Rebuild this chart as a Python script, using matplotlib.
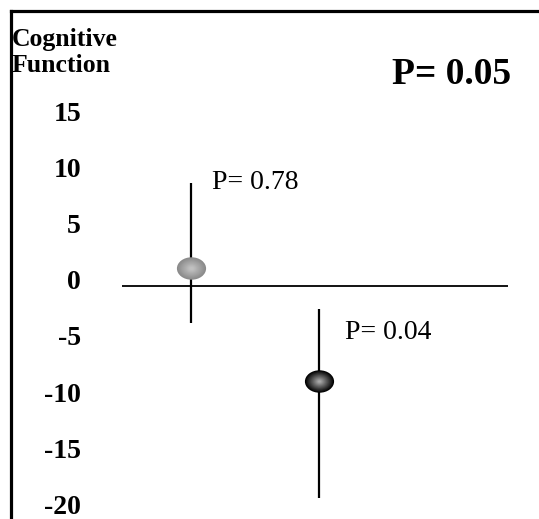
import numpy as np
import matplotlib
matplotlib.use("Agg")
import matplotlib.pyplot as plt
from matplotlib.path import Path
from matplotlib.transforms import Affine2D, ScaledTranslation
from matplotlib.lines import Line2D
import matplotlib.colors as mcolors

# ---- data ----
groups = ["Group 1", "Group 2"]
x_pos = [1, 2]
means = [1.6, -8.5]
upper = [9.2, -2.05]
lower = [-3.3, -18.9]
group_p = ["P= 0.78", "P= 0.04"]
overall_p = "P= 0.05"
y_ticks = [15, 10, 5, 0, -5, -10, -15, -20]
y_label = "Cognitive\nFunction"

serif = ["Liberation Serif", "DejaVu Serif"]

W, H = 539, 519
fig = plt.figure(figsize=(W / 100, H / 100), dpi=100)
ax = fig.add_axes([122 / W, 0, 386 / W, (H - 100) / H])
ax.set_xlim(0.46, 3.48)
ax.set_ylim(-20.8, 16.6)
for s in ax.spines.values():
    s.set_visible(False)
ax.set_xticks([])
ax.set_yticks(y_ticks)
ax.set_yticklabels([str(t) for t in y_ticks])
ax.tick_params(axis="y", length=0, pad=29.5)
for lab in ax.get_yticklabels():
    lab.set_fontfamily(serif)
    lab.set_fontweight("bold")
    lab.set_fontsize(20)
    lab.set_transform(lab.get_transform() + ScaledTranslation(0, 6 / 100, fig.dpi_scale_trans))

ax.axhline(0, color="black", lw=1.3, zorder=1)

# error bars
err_lo = [m - l for m, l in zip(means, lower)]
err_hi = [u - m for m, u in zip(means, upper)]
ax.errorbar(x_pos, means, yerr=[err_lo, err_hi], fmt="none", ecolor="black",
            elinewidth=1.6, capsize=0, zorder=2)

# ellipse marker (horizontally stretched circle)
ell = Path.unit_circle().transformed(Affine2D().scale(1.3, 1.0))

def shaded(x, y, outer, inner, size, shrink):
    n = 14
    c0 = np.array(mcolors.to_rgb(outer))
    c1 = np.array(mcolors.to_rgb(inner))
    for i in range(n):
        f = i / (n - 1)
        col = c0 * (1 - f) + c1 * f
        sz = size * (1 - shrink * f)
        ax.plot([x], [y], marker=ell, markersize=sz, color=col,
                markeredgewidth=0, linestyle="none", zorder=3 + i * 0.01)

shaded(x_pos[0], means[0], "#8a8a8a", "#c0c0c0", 21, 0.85)
shaded(x_pos[1], means[1], "#000000", "#a8a8a8", 21, 0.9)

# p-value annotations
offsets = [(15, 0), (19, -17)]
for x, u, txt, off in zip(x_pos, upper, group_p, offsets):
    ax.annotate(txt, xy=(x, u), xytext=off, textcoords="offset points",
                ha="left", va="center", fontsize=20, family=serif)

fig.text(452 / W, 1 - 74 / H, overall_p, ha="center", va="center",
         fontsize=27, fontweight="bold", family=serif)
fig.text(12 / W, 1 - 28 / H, y_label, ha="left", va="top", fontsize=18.5,
         fontweight="bold", family=serif, linespacing=1.15)

# frame lines (left and top)
fig.add_artist(Line2D([11 / W, 11 / W], [0, 1 - 11 / H], color="black", lw=2.3,
                      transform=fig.transFigure))
fig.add_artist(Line2D([11 / W, 1], [1 - 11 / H, 1 - 11 / H], color="black", lw=2.3,
                      transform=fig.transFigure))

fig.savefig("out.png", dpi=100)
